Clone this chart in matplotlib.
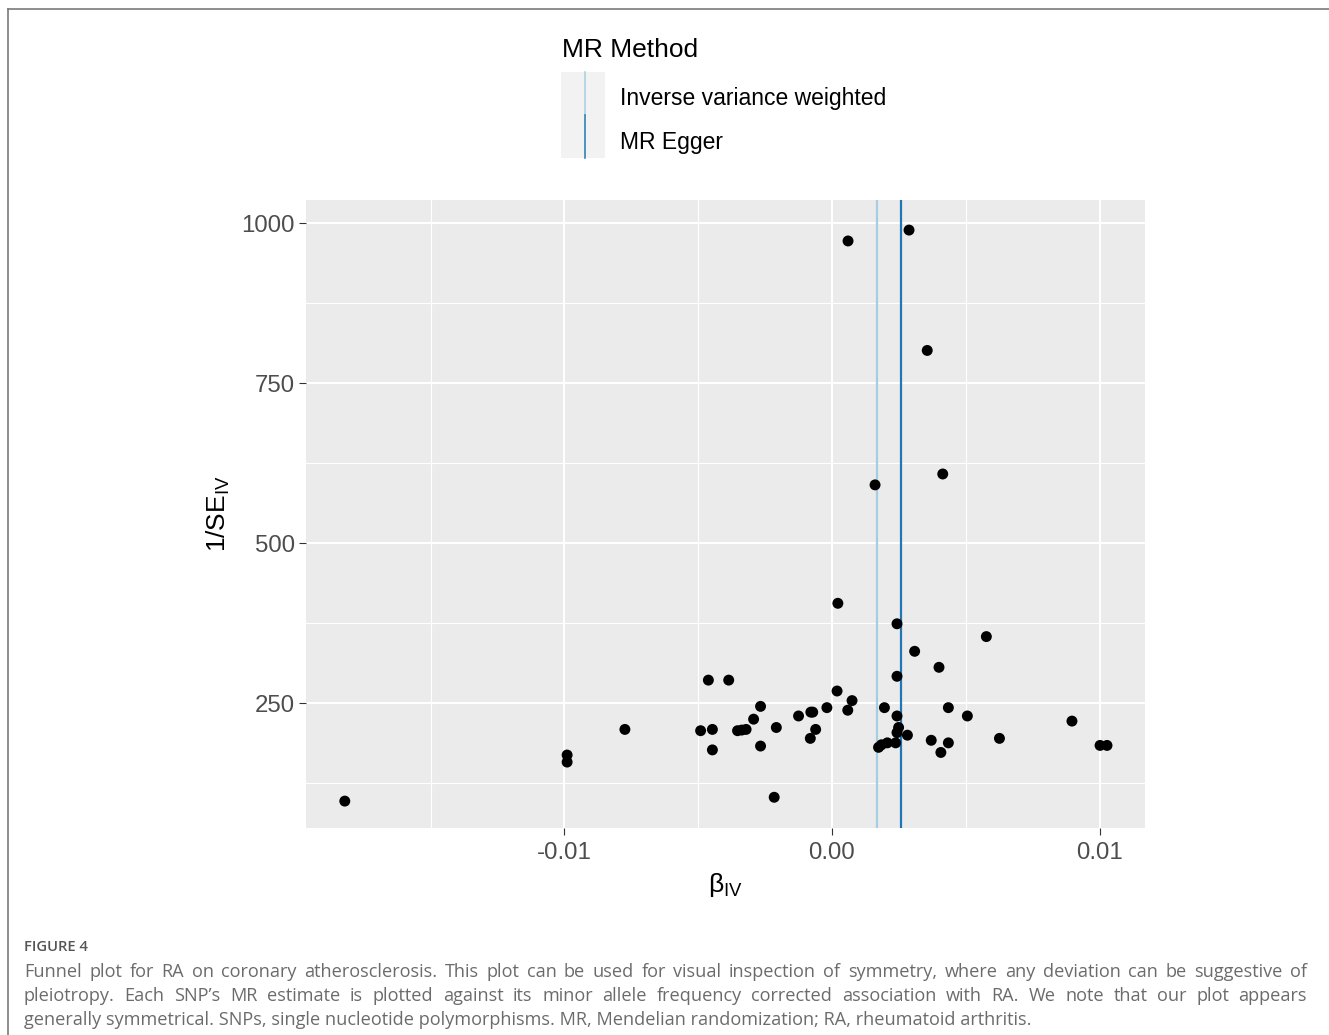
import numpy as np
import matplotlib
matplotlib.use("Agg")
import matplotlib.pyplot as plt
from matplotlib.lines import Line2D
from matplotlib.patches import Rectangle
from matplotlib.ticker import FixedLocator


# =====================================================
# 1. Data
# =====================================================

beta_iv = [
    -0.01821, -0.0099, -0.0099, -0.00774, -0.00491, -0.00447, -0.00447,
    -0.00462, -0.00386, -0.00353, -0.00337, -0.00321, -0.00293, -0.00267,
    -0.00267, -0.00216, -0.00208, -0.00125, -0.00081, -0.00079, -0.00072,
    -0.00061, -0.00019, 0.00019, 0.00022, 0.00059, 0.00060, 0.00075,
    0.00161, 0.00174, 0.00185, 0.00196, 0.00207, 0.00238, 0.00243,
    0.00243, 0.00243, 0.00243, 0.00249, 0.00282, 0.00288, 0.00309,
    0.00356, 0.00371, 0.00400, 0.00407, 0.00414, 0.00435, 0.00435,
    0.00506, 0.00577, 0.00626, 0.00897, 0.01002, 0.01028,
]

inv_se_iv = [
    97, 169, 158, 209, 207, 209, 177,
    286, 286, 207, 208, 209, 225, 245,
    183, 103, 212, 230, 195, 236, 236,
    209, 243, 269, 406, 239, 972, 254,
    591, 181, 185, 243, 188, 188, 204,
    230, 292, 374, 212, 200, 989, 331,
    801, 192, 306, 173, 608, 243, 188,
    230, 354, 195, 222, 184, 184,
]

methods = ["Inverse variance weighted", "MR Egger"]
method_estimates = [0.00168, 0.00258]
method_colors = ["#a6cee3", "#1f78b4"]

x_ticks = [-0.01, 0.0, 0.01]
x_tick_labels = ["-0.01", "0.00", "0.01"]
y_ticks = [250, 500, 750, 1000]

caption_head = "FIGURE 4"
caption_lines = [
    "Funnel plot for RA on coronary atherosclerosis. This plot can be used for visual inspection of symmetry, where any deviation can be suggestive of",
    "pleiotropy. Each SNP\u2019s MR estimate is plotted against its minor allele frequency corrected association with RA. We note that our plot appears",
    "generally symmetrical. SNPs, single nucleotide polymorphisms. MR, Mendelian randomization; RA, rheumatoid arthritis.",
]


# =====================================================
# 2. Figure setup
# =====================================================

W, H = 1329, 1035
plt.rcParams["font.family"] = ["Liberation Sans", "DejaVu Sans"]
plt.rcParams["mathtext.fontset"] = "custom"
plt.rcParams["mathtext.rm"] = "Liberation Sans"
plt.rcParams["mathtext.it"] = "Liberation Sans:italic"

fig = plt.figure(figsize=(W / 100, H / 100), dpi=100)


def fx(px):
    return px / W


def fy(py):
    return 1 - py / H


ax = fig.add_axes([fx(306), fy(828), fx(1145) - fx(306), fy(200) - fy(828)])
ax.set_facecolor("#ebebeb")
for s in ax.spines.values():
    s.set_visible(False)

# Points
ax.scatter(beta_iv, inv_se_iv, s=62, color="black", edgecolors="none", zorder=3)

# Method estimates
for est, col in zip(method_estimates, method_colors):
    ax.axvline(est, color=col, linewidth=1.6, zorder=2)

ax.set_xlim(-0.01966, 0.0117)
ax.set_ylim(55, 1036)

ax.set_xticks(x_ticks)
ax.set_xticklabels(x_tick_labels)
ax.set_yticks(y_ticks)
ax.xaxis.set_minor_locator(FixedLocator([-0.015, -0.005, 0.005]))
ax.yaxis.set_minor_locator(FixedLocator([125, 375, 625, 875]))

ax.grid(True, which="major", color="white", linewidth=1.5, zorder=0)
ax.grid(True, which="minor", color="white", linewidth=0.8, zorder=0)
ax.set_axisbelow(True)

ax.tick_params(axis="both", which="major", length=5, width=0.8,
               color="#333333", labelcolor="#4d4d4d", labelsize=17.3, pad=3)
ax.tick_params(axis="x", which="major", pad=5)
ax.tick_params(axis="both", which="minor", length=0)

ax.set_xlabel(r"$\mathrm{\beta}_{\mathrm{IV}}$", fontsize=19, labelpad=5)
ax.set_ylabel(r"$1/\mathrm{SE}_{\mathrm{IV}}$", fontsize=19, labelpad=7)


# =====================================================
# 3. Legend (ggplot style, drawn above the panel)
# =====================================================

fig.text(fx(562), fy(50), "MR Method", fontsize=19, va="center", ha="left")

fig.add_artist(Rectangle((fx(561), fy(158)), fx(605) - fx(561), fy(72) - fy(158),
                         transform=fig.transFigure, facecolor="#f2f2f2",
                         edgecolor="none"))

key_tops = [72, 115]
for i, (name, col) in enumerate(zip(methods, method_colors)):
    top = key_tops[i]
    fig.add_artist(Line2D([fx(585), fx(585)], [fy(top), fy(top + 43)],
                          transform=fig.transFigure, color=col, linewidth=1.1))
    fig.text(fx(620), fy(top + 27), name, fontsize=16.5, va="center", ha="left")


# =====================================================
# 4. Frame + caption
# =====================================================

fig.add_artist(Line2D([fx(7.5), fx(W)], [fy(8.5), fy(8.5)],
                      transform=fig.transFigure, color="#7a7a7a", linewidth=1.2))
fig.add_artist(Line2D([fx(7.5), fx(7.5)], [fy(8.5), fy(H)],
                      transform=fig.transFigure, color="#7a7a7a", linewidth=1.2))

fig.text(fx(24), fy(951), caption_head, fontsize=10.6, fontweight="semibold",
         family=["Open Sans", "DejaVu Sans"], color="#555555", va="baseline")

renderer = fig.canvas.get_renderer()


def justified_line(text, x0, x1, y_base, justify=True):
    words = text.split(" ")
    kw = dict(fontsize=13.1, family=["Open Sans", "DejaVu Sans"],
              color="#6b6b6b", va="baseline", ha="left")
    if not justify:
        fig.text(fx(x0), fy(y_base), text, **kw)
        return
    arts = [fig.text(0, 0, w, **kw) for w in words]
    widths = [a.get_window_extent(renderer).width for a in arts]
    gap = (x1 - x0 - sum(widths)) / (len(words) - 1)
    x = x0
    for a, w in zip(arts, widths):
        a.set_position((fx(x), fy(y_base)))
        x += w + gap


baselines = [977, 1001, 1025]
for i, line in enumerate(caption_lines):
    justified_line(line, 24, 1307, baselines[i], justify=(i < 2))

fig.savefig("out.png", dpi=100)
